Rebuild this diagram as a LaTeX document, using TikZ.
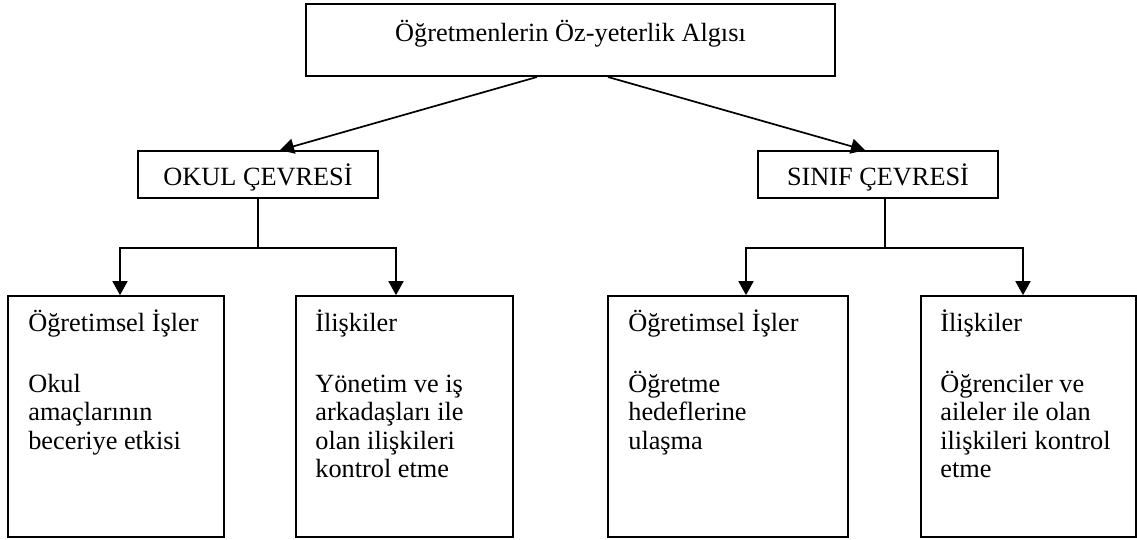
\documentclass[tikz,border=0pt]{standalone}
\usepackage{fontspec}
\setmainfont{Liberation Serif}
\usetikzlibrary{arrows.meta,calc}
\begin{document}
\begin{tikzpicture}[x=1pt,y=-1pt,
  txt/.style={font={\fontsize{26.3}{28.4}\selectfont\lineskiplimit=-100pt}},
  ln/.style={line width=1.7pt},
  arr/.style={ln,-{Triangle[length=14pt,width=15pt]}},
  topbox/.style={draw,line width=2pt,inner sep=0pt,txt,minimum width=529pt,minimum height=72pt,text height=19pt,text depth=17pt},
  midbox/.style={draw,ln,inner sep=0pt,txt,minimum width=240pt,minimum height=47pt,text height=22pt,text depth=0pt},
  botbox/.style={draw,ln,inner sep=0pt,minimum height=241pt},
  btext/.style={txt,inner sep=0pt,anchor=north west,text width=205pt,align=flush left}
]
\useasboundingbox (0,0) rectangle (1137,539);

\node[topbox] (top) at (570.5,40) {Öğretmenlerin Öz-yeterlik Algısı};
\node[midbox] (okul) at (258,174.5) {OKUL ÇEVRESİ};
\node[midbox] (sinif) at (878,174.5) {SINIF ÇEVRESİ};

\node[botbox,minimum width=216pt] (b1) at (116,416.5) {};
\node[botbox,minimum width=217pt] (b2) at (404.5,416.5) {};
\node[botbox,minimum width=240pt] (b3) at (728,416.5) {};
\node[botbox,minimum width=215pt] (b4) at (1028.5,416.5) {};

\node[btext] (t1) at ([xshift=21pt,yshift=-10pt]b1.north west)
  {\rule{0pt}{26pt}Öğretimsel İşler\\[32.6pt]Okul\\amaçlarının\\beceriye etkisi};
\node[btext] (t2) at ([xshift=20pt,yshift=-10pt]b2.north west)
  {\rule{0pt}{26pt}İlişkiler\\[32.6pt]Yönetim ve iş\\arkadaşları ile\\olan ilişkileri\\kontrol etme};
\node[btext] (t3) at ([xshift=21pt,yshift=-10pt]b3.north west)
  {\rule{0pt}{26pt}Öğretimsel İşler\\[32.6pt]Öğretme\\hedeflerine\\ulaşma};
\node[btext] (t4) at ([xshift=20pt,yshift=-10pt]b4.north west)
  {\rule{0pt}{26pt}İlişkiler\\[32.6pt]Öğrenciler ve\\aileler ile olan\\ilişkileri kontrol\\etme};

\draw[arr] ([xshift=-33.5pt]top.south) -- ([xshift=22pt]okul.north);
\draw[arr] ([xshift=37.5pt]top.south) -- ([xshift=-13pt]sinif.north);

\draw[ln] (okul.south) -- ++(0,49) coordinate (okj);
\draw[arr] (okj) -| ([xshift=4pt]b1.north);
\draw[arr] (okj) -| ([xshift=-8.5pt]b2.north);

\draw[ln] ([xshift=7pt]sinif.south) -- ++(0,49) coordinate (sij);
\draw[arr] (sij) -| ([xshift=18pt]b3.north);
\draw[arr] (sij) -| ([xshift=-5.5pt]b4.north);
\end{tikzpicture}
\end{document}
